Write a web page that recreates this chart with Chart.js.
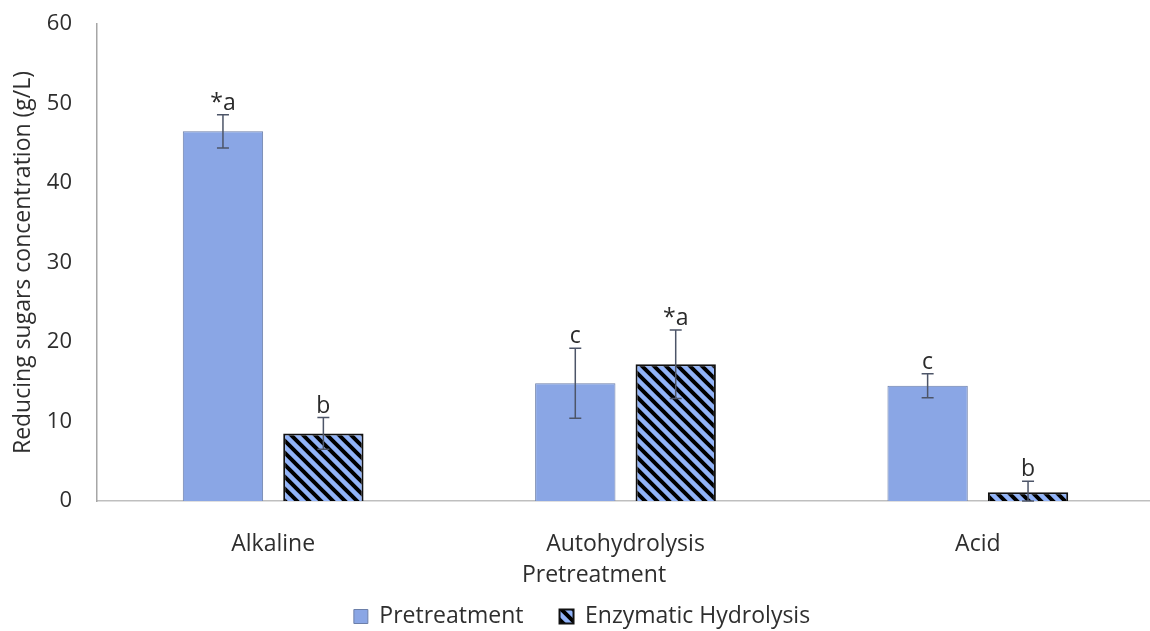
<!DOCTYPE html>
<html>
<head>
<meta charset="utf-8">
<script src="https://cdn.jsdelivr.net/npm/chart.js@4.4.1/dist/chart.umd.min.js"></script>
<style>
  html, body { margin: 0; padding: 0; background: #fff; overflow: hidden; }
  #wrap { width: 1154px; height: 631px; position: relative; }
</style>
</head>
<body>
<div id="wrap"><canvas id="c"></canvas></div>
<script>
// Reducing sugars released per pretreatment (g/L), mean ± SD with significance letters
const categories = ['Alkaline', 'Autohydrolysis', 'Acid'];
const pretreatment = [46.5, 14.8, 14.5];
const pretreatmentErr = [2.1, 4.4, 1.5];
const pretreatmentLetters = ['*a', 'c', 'c'];
const enzymatic = [8.5, 17.2, 1.1];
const enzymaticErr = [2.0, 4.3, 1.4];
const enzymaticLetters = ['b', '*a', 'b'];
const yTicks = [0, 10, 20, 30, 40, 50, 60];

const FONT = 'Open Sans';
const TEXT = '#2e2e2e';

// Diagonal "\" hatch used for the enzymatic hydrolysis bars
function makeHatch() {
  const s = 12;
  const c = document.createElement('canvas');
  c.width = s; c.height = s;
  const g = c.getContext('2d');
  g.fillStyle = '#91b3f8';
  g.fillRect(0, 0, s, s);
  g.strokeStyle = '#000';
  g.lineWidth = 4;
  g.beginPath();
  for (const o of [-s, 0, s]) {
    g.moveTo(o - 2, -2);
    g.lineTo(o + s + 2, s + 2);
  }
  g.stroke();
  return g.createPattern(c, 'repeat');
}

const errors = [pretreatmentErr, enzymaticErr];
const letters = [pretreatmentLetters, enzymaticLetters];

const errorBars = {
  id: 'errorBars',
  afterDatasetsDraw(chart) {
    const ctx = chart.ctx;
    const y = chart.scales.y;
    ctx.save();
    chart.data.datasets.forEach((ds, i) => {
      const meta = chart.getDatasetMeta(i);
      meta.data.forEach((el, j) => {
        const v = ds.data[j], e = errors[i][j];
        const top = y.getPixelForValue(v + e);
        const bot = y.getPixelForValue(Math.max(0, v - e));
        const x = el.x;
        ctx.strokeStyle = '#4d5568';
        ctx.lineWidth = 1.5;
        ctx.beginPath();
        ctx.moveTo(x, top); ctx.lineTo(x, bot);
        ctx.moveTo(x - 6, top); ctx.lineTo(x + 6, top);
        ctx.moveTo(x - 6, bot); ctx.lineTo(x + 6, bot);
        ctx.stroke();
        ctx.fillStyle = '#2a2a2a';
        ctx.font = '23px "' + FONT + '"';
        ctx.textAlign = 'center';
        ctx.textBaseline = 'alphabetic';
        ctx.fillText(letters[i][j], x, top - 5);
      });
    });
    ctx.restore();
  }
};

const xTitle = {
  id: 'xTitle',
  afterDraw(chart) {
    const ctx = chart.ctx;
    ctx.save();
    ctx.fillStyle = TEXT;
    ctx.font = '23px "' + FONT + '"';
    ctx.textAlign = 'center';
    ctx.textBaseline = 'middle';
    ctx.fillText('Pretreatment', 594, 575);
    ctx.restore();
  }
};

new Chart(document.getElementById('c'), {
  type: 'bar',
  data: {
    labels: categories,
    datasets: [
      {
        label: 'Pretreatment',
        data: pretreatment,
        backgroundColor: '#8aa6e5',
        borderColor: '#6c7fa9',
        borderWidth: 1
      },
      {
        label: 'Enzymatic Hydrolysis',
        data: enzymatic,
        backgroundColor: makeHatch(),
        borderColor: '#111',
        borderWidth: 2
      }
    ]
  },
  options: {
    responsive: true,
    maintainAspectRatio: false,
    animation: false,
    categoryPercentage: 0.57,
    barPercentage: 0.8,
    layout: { padding: { left: 10, top: 0, right: 0, bottom: -7 } },
    plugins: {
      tooltip: { enabled: false },
      legend: {
        position: 'bottom',
        labels: {
          boxWidth: 14,
          boxHeight: 14,
          padding: 36,
          color: TEXT,
          font: { family: FONT, size: 23 }
        }
      }
    },
    scales: {
      x: {
        grid: { display: false, drawTicks: false },
        border: { color: '#bfbfbf', width: 1.5 },
        ticks: { color: TEXT, padding: 30, font: { family: FONT, size: 23 } },
        afterFit(scale) { scale.height = 68; }
      },
      y: {
        min: 0,
        max: 60,
        afterBuildTicks(scale) { scale.ticks = yTicks.map(v => ({ value: v })); },
        grid: { display: false, drawTicks: false },
        border: { color: '#a6a6a6', width: 1.5 },
        ticks: { color: TEXT, padding: 25, font: { family: FONT, size: 22 } },
        title: {
          display: true,
          text: 'Reducing sugars concentration (g/L)',
          color: TEXT,
          font: { family: FONT, size: 23 },
          padding: { top: 0, bottom: 0 }
        },
        afterFit(scale) {
          scale.width = 87;
          scale.paddingTop = 24;
          scale.paddingBottom = 0;
        }
      }
    }
  },
  plugins: [errorBars, xTitle]
});
</script>
</body>
</html>
